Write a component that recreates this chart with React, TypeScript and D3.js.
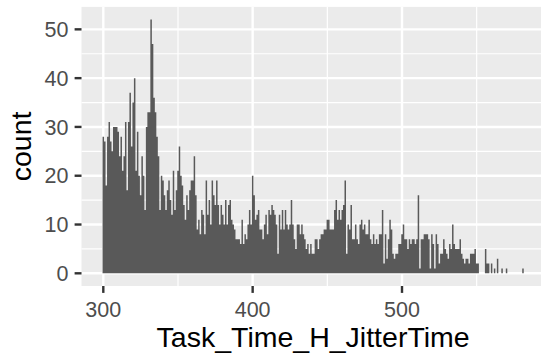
import React from "react";
import * as d3 from "d3";

// Histogram of Task_Time_H_JitterTime, binwidth 1, first bin centred at 300
const binStart = 300;
const counts: number[] = [
  // 300-309
  28, 27, 18, 28, 31, 27, 25, 30, 30, 30,
  // 310-319
  29, 24, 28, 21, 24, 31, 17, 31, 37, 26,
  // 320-329
  35, 40, 21, 29, 20, 16, 24, 20, 13, 30,
  // 330-339
  33, 33, 52, 47, 36, 33, 28, 24, 13, 20,
  // 340-349
  19, 16, 13, 17, 19, 15, 12, 21, 13, 17,
  // 350-359
  21, 26, 20, 18, 14, 11, 16, 13, 17, 19,
  // 360-369
  19, 24, 16, 9, 11, 8, 13, 12, 8, 19,
  // 370-379
  12, 15, 10, 19, 16, 14, 19, 14, 10, 14,
  // 380-389
  12, 10, 15, 10, 14, 15, 11, 10, 9, 7,
  // 390-399
  7, 7, 6, 11, 6, 8, 7, 10, 13, 10,
  // 400-409
  20, 16, 11, 12, 13, 9, 9, 7, 10, 12,
  // 410-419
  8, 13, 12, 14, 13, 12, 10, 4, 12, 9,
  // 420-429
  13, 9, 13, 10, 9, 10, 15, 10, 7, 5,
  // 430-439
  10, 10, 8, 10, 8, 7, 5, 6, 4, 6,
  // 440-449
  4, 4, 7, 7, 5, 7, 8, 8, 9, 9,
  // 450-459
  11, 11, 9, 9, 9, 13, 15, 11, 13, 11,
  // 460-469
  13, 14, 19, 4, 10, 9, 14, 7, 7, 10,
  // 470-479
  7, 6, 10, 11, 9, 10, 8, 8, 11, 7,
  // 480-489
  6, 8, 6, 7, 6, 8, 8, 13, 2, 8,
  // 490-499
  3, 7, 11, 9, 4, 3, 4, 4, 6, 6,
  // 500-509
  8, 10, 7, 7, 5, 7, 6, 7, 7, 6,
  // 510-519
  7, 16, 1, 7, 7, 8, 8, 8, 7, 1,
  // 520-529
  8, 6, 1, 8, 6, 2, 4, 4, 7, 5,
  // 530-539
  4, 3, 6, 5, 10, 6, 5, 5, 5, 7,
  // 540-549
  4, 3, 2, 3, 3, 2, 4, 4, 4, 5,
  // 550-559
  2, 2, 0, 0, 0, 0, 5, 2, 2, 0,
  // 560-569
  2, 0, 1, 0, 3, 0, 0, 1, 0, 0,
  // 570-579
  1, 0, 0, 0, 0, 0, 0, 0, 0, 0,
  // 580-581
  0, 1,
];

const xTicks = [300, 400, 500];
const xMinor = [350, 450, 550];
const yTicks = [0, 10, 20, 30, 40, 50];
const yMinor = [5, 15, 25, 35, 45];
const xTitle = "Task_Time_H_JitterTime";
const yTitle = "count";

const W = 541;
const H = 354;
const panelLeft = 81.5;
const panelTop = 6.9;
const panelBottom = 286;
const pxPerUnit = 1.4935;

export default function App() {
  const bins = counts.map((c, i) => ({ x0: binStart + i - 0.5, x1: binStart + i + 0.5, count: c }));
  const dataMin = d3.min(bins, (b) => b.x0) as number;
  const dataMax = d3.max(bins, (b) => b.x1) as number;
  const xPad = (dataMax - dataMin) * 0.05;
  const xDomain: [number, number] = [dataMin - xPad, dataMax + xPad];
  const x = d3
    .scaleLinear()
    .domain(xDomain)
    .range([panelLeft, panelLeft + (xDomain[1] - xDomain[0]) * pxPerUnit]);

  const yMax = d3.max(counts) as number;
  const yPad = yMax * 0.05;
  const y = d3.scaleLinear().domain([-yPad, yMax + yPad]).range([panelBottom, panelTop]);

  const panelRight = x.range()[1];
  const font = "'Liberation Sans', Arial, Helvetica, sans-serif";
  const tickFont = 21.5;
  const titleFont = 28.5;

  // one solid step-shaped area so adjacent bars show no seams
  const stepPts: { v: number; c: number }[] = [];
  bins.forEach((b) => {
    stepPts.push({ v: b.x0, c: b.count });
    stepPts.push({ v: b.x1, c: b.count });
  });
  const area = d3
    .area<{ v: number; c: number }>()
    .x((d) => x(d.v))
    .y0(y(0))
    .y1((d) => y(d.c));
  const histPath = area(stepPts) || "";

  return (
    <svg
      width={W}
      height={H}
      style={{ position: "absolute", left: 0, top: 0, display: "block", background: "#ffffff" }}
    >
      <rect x={0} y={0} width={W} height={H} fill="#ffffff" />
      {/* panel */}
      <rect
        x={panelLeft}
        y={panelTop}
        width={panelRight - panelLeft}
        height={panelBottom - panelTop}
        fill="#EBEBEB"
      />
      {/* minor grid */}
      {yMinor.map((v) => (
        <line key={"ym" + v} x1={panelLeft} x2={panelRight} y1={y(v)} y2={y(v)} stroke="#ffffff" strokeWidth={1.2} />
      ))}
      {xMinor.map((v) => (
        <line key={"xm" + v} x1={x(v)} x2={x(v)} y1={panelTop} y2={panelBottom} stroke="#ffffff" strokeWidth={1.2} />
      ))}
      {/* major grid */}
      {yTicks.map((v) => (
        <line key={"yg" + v} x1={panelLeft} x2={panelRight} y1={y(v)} y2={y(v)} stroke="#ffffff" strokeWidth={2.4} />
      ))}
      {xTicks.map((v) => (
        <line key={"xg" + v} x1={x(v)} x2={x(v)} y1={panelTop} y2={panelBottom} stroke="#ffffff" strokeWidth={2.4} />
      ))}
      {/* bars */}
      <path d={histPath} fill="#595959" />
      {/* y axis ticks + labels */}
      {yTicks.map((v) => (
        <g key={"yt" + v}>
          <line x1={panelLeft - 6.9} x2={panelLeft} y1={y(v)} y2={y(v)} stroke="#333333" strokeWidth={2.4} />
          <text
            x={panelLeft - 13}
            y={y(v)}
            dy="0.36em"
            textAnchor="end"
            fontFamily={font}
            fontSize={tickFont}
            fill="#4D4D4D"
          >
            {v}
          </text>
        </g>
      ))}
      {/* x axis ticks + labels */}
      {xTicks.map((v) => (
        <g key={"xt" + v}>
          <line x1={x(v)} x2={x(v)} y1={panelBottom} y2={panelBottom + 6.9} stroke="#333333" strokeWidth={2.4} />
          <text
            x={x(v)}
            y={317}
            textAnchor="middle"
            fontFamily={font}
            fontSize={tickFont}
            fill="#4D4D4D"
          >
            {v}
          </text>
        </g>
      ))}
      {/* titles */}
      <text
        x={(panelLeft + panelRight) / 2}
        y={347}
        textAnchor="middle"
        fontFamily={font}
        fontSize={titleFont}
        fill="#000000"
      >
        {xTitle}
      </text>
      <text
        transform={`translate(30.5, ${(panelTop + panelBottom) / 2}) rotate(-90)`}
        textAnchor="middle"
        fontFamily={font}
        fontSize={titleFont}
        fill="#000000"
      >
        {yTitle}
      </text>
    </svg>
  );
}
